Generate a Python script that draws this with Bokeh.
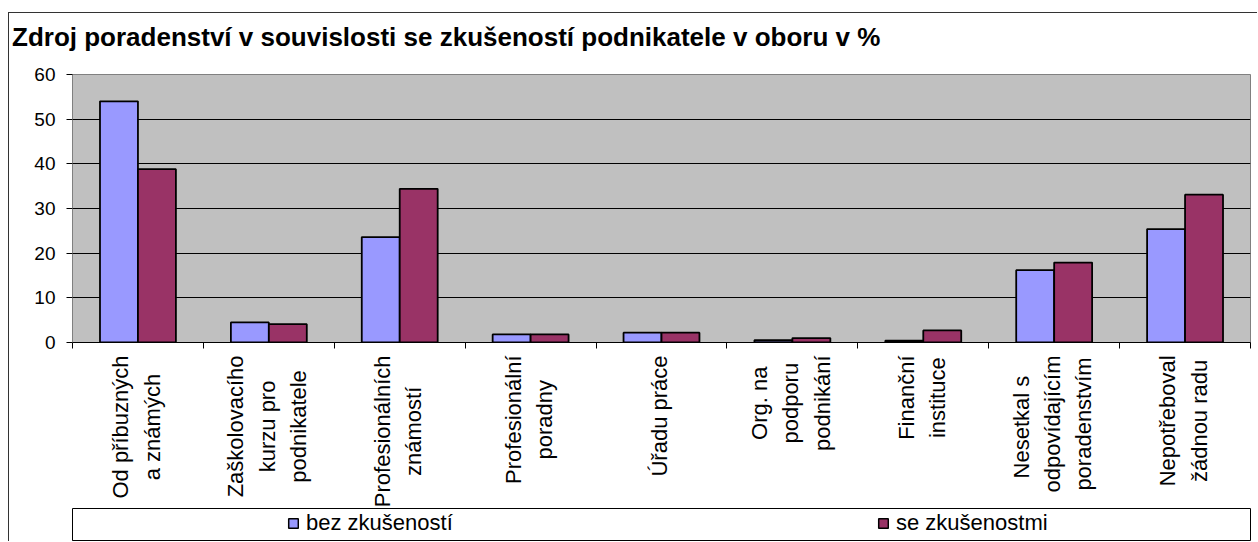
import math
import numpy as np
from bokeh.plotting import figure
from bokeh.models import (ColumnDataSource, Range1d, FixedTicker, Legend, LegendItem, Label, Div)
from bokeh.layouts import column
from bokeh.transform import dodge
from bokeh.embed import file_html
from bokeh.resources import INLINE

# ---- data ----
categories = [
    "Od příbuzných\na známých",
    "Zaškolovacího\nkurzu pro\npodnikatele",
    "Profesionálních\nznámostí",
    "Profesionální\nporadny",
    "Úřadu práce",
    "Org. na\npodporu\npodnikání",
    "Finanční\ninstituce",
    "Nesetkal  s\nodpovídajícím\nporadenstvím",
    "Nepotřeboval\nžádnou radu",
]
bez_zkusenosti = [54.0, 4.5, 23.6, 1.8, 2.2, 0.5, 0.4, 16.2, 25.4]
se_zkusenostmi = [38.8, 4.1, 34.4, 1.8, 2.2, 1.0, 2.7, 17.9, 33.1]
series_names = ["bez zkušeností", "se zkušenostmi"]
series_colors = ["#9999FF", "#993366"]
y_ticks = [0, 10, 20, 30, 40, 50, 60]
title_text = "Zdroj poradenství v souvislosti se zkušeností podnikatele v oboru v %"

FONT = "Liberation Sans"
W = 1248
BL, BR = 59, 7
LABEL_PX = 22
LINE_STEP_PX = 31.5

# Liberation Sans / Arial advance widths (per 1000 em), used to centre label lines
ADV = {" ": 278, ".": 278, "O": 778, "Z": 611, "P": 667, "Ú": 722, "F": 611, "N": 722,
       "a": 556, "á": 556, "b": 556, "c": 500, "č": 500, "d": 556, "e": 556, "ě": 556,
       "f": 278, "g": 556, "h": 556, "i": 222, "í": 278, "j": 222, "k": 500, "l": 222,
       "m": 833, "n": 556, "o": 556, "p": 556, "r": 333, "ř": 333, "s": 500, "š": 500,
       "t": 278, "u": 556, "v": 500, "y": 500, "ý": 500, "z": 500, "ž": 500}


def text_px(s, size):
    return sum(ADV.get(ch, 556) for ch in s) * size / 1000.0


n = len(categories)
centers = np.arange(n) + 0.5
source = ColumnDataSource(dict(x=centers, bez=bez_zkusenosti, se=se_zkusenostmi))
x_range = Range1d(0, n)


def blank(fig):
    fig.xgrid.grid_line_color = None
    fig.ygrid.grid_line_color = None
    fig.background_fill_color = "white"
    fig.border_fill_color = "white"


# ---- title ----
title_div = Div(text=title_text, width=W, height=49, margin=0,
                styles={"font-family": "'Liberation Sans', Arial, sans-serif",
                        "font-size": "26px", "font-weight": "bold", "color": "black",
                        "padding-left": "3px", "padding-top": "6px", "white-space": "nowrap",
                        "box-sizing": "border-box"})

# ---- main chart ----
p = figure(width=W, height=292, output_backend="svg", toolbar_location=None,
           x_range=x_range, y_range=Range1d(0, 60),
           min_border_left=BL, min_border_right=BR, min_border_top=12, min_border_bottom=12)

p.background_fill_color = "#C0C0C0"
p.border_fill_color = "white"
p.outline_line_color = "#808080"
p.outline_line_width = 1

p.vbar(x=dodge("x", -0.145, range=x_range), top="bez", width=0.29, source=source,
       fill_color=series_colors[0], line_color="black", line_width=1.8)
p.vbar(x=dodge("x", 0.145, range=x_range), top="se", width=0.29, source=source,
       fill_color=series_colors[1], line_color="black", line_width=1.8)

p.xgrid.grid_line_color = None
p.ygrid.grid_line_color = "black"
p.ygrid.grid_line_width = 1
p.ygrid.ticker = FixedTicker(ticks=y_ticks)

p.yaxis.ticker = FixedTicker(ticks=y_ticks)
p.yaxis.axis_line_color = "#808080"
p.yaxis.major_tick_line_color = "black"
p.yaxis.major_tick_in = 0
p.yaxis.major_tick_out = 6
p.yaxis.minor_tick_line_color = None
p.yaxis.major_label_text_font = FONT
p.yaxis.major_label_text_font_size = "19px"
p.yaxis.major_label_text_color = "black"
p.yaxis.major_label_standoff = 11

# x axis: tick marks at the category boundaries; category names drawn below
p.xaxis.ticker = FixedTicker(ticks=list(centers), minor_ticks=list(range(n + 1)))
p.xaxis.major_label_overrides = {float(c): "" for c in centers}
p.xaxis.major_label_text_font_size = "0px"
p.xaxis.major_label_standoff = 0
p.xaxis.axis_line_color = "black"
p.xaxis.major_tick_line_color = None
p.xaxis.major_tick_in = 0
p.xaxis.major_tick_out = 0
p.xaxis.minor_tick_line_color = "black"
p.xaxis.minor_tick_in = 0
p.xaxis.minor_tick_out = 6

# ---- category labels: rotated, lines centred on each other ----
LH = 154
lab_fig = figure(width=W, height=LH, output_backend="svg", toolbar_location=None,
                 x_range=x_range, y_range=Range1d(0, 1),
                 x_axis_location=None, y_axis_location=None,
                 min_border_left=BL, min_border_right=BR, min_border_top=0, min_border_bottom=0)
blank(lab_fig)
lab_fig.outline_line_color = None
frame_w = W - BL - BR
step = LINE_STEP_PX * n / frame_w
for c, lab in zip(centers, categories):
    lines = lab.split("\n")
    longest = max(text_px(s, LABEL_PX) for s in lines)
    y_mid = LH - 1 - longest / 2.0
    m = len(lines)
    for j, line in enumerate(lines):
        lab_fig.add_layout(Label(x=float(c) + (j - (m - 1) / 2.0) * step - 0.012, y=y_mid,
                                 x_units="data", y_units="screen", text=line,
                                 angle=math.pi / 2, text_align="center", text_baseline="middle",
                                 text_font=FONT, text_font_size=f"{LABEL_PX}px",
                                 text_color="black"))

# ---- legend ----
leg = figure(width=W, height=33, output_backend="svg", toolbar_location=None,
             x_range=Range1d(0, 1), y_range=Range1d(0, 1),
             x_axis_location=None, y_axis_location=None,
             min_border_left=63, min_border_right=BR, min_border_top=0, min_border_bottom=1)
blank(leg)
leg.outline_line_color = "black"
leg.outline_line_width = 1
offscreen = ColumnDataSource(dict(x=[-5.0], top=[-5.0]))
r1 = leg.vbar(x="x", top="top", width=0.1, source=offscreen, fill_color=series_colors[0],
              line_color="black", line_width=1.5)
r2 = leg.vbar(x="x", top="top", width=0.1, source=offscreen, fill_color=series_colors[1],
              line_color="black", line_width=1.5)
legend = Legend(items=[LegendItem(label=series_names[0], renderers=[r1]),
                       LegendItem(label=series_names[1], renderers=[r2])],
                orientation="horizontal", location=(215, 4),
                glyph_width=12, glyph_height=12, label_standoff=7, label_width=571,
                spacing=0, padding=0, margin=0, border_line_color=None,
                background_fill_alpha=0, label_text_font=FONT, label_text_font_size="22px",
                label_text_color="black")
leg.add_layout(legend, "center")

layout = column(title_div, p, lab_fig, leg, spacing=0, margin=(12, 0, 0, 8),
                styles={"border-top": "1px solid #333333", "border-left": "1px solid #333333"})

open("out.html", "w").write(file_html(layout, INLINE))
